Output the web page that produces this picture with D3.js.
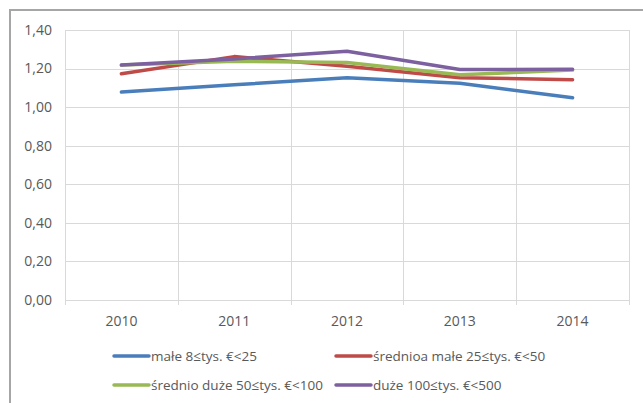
<!doctype html>
<html lang="pl">
  <head>
    <meta charset="utf-8">
    <title>Wskaźnik wg klas wielkości</title>
    <script src="https://d3js.org/d3.v7.min.js"></script>
    <style>
    body { margin: 0; background: #fff; }
    text { font-family: "Open Sans", "Liberation Sans", sans-serif; fill: #595959; }
    </style>
  </head>
  <body>
    <svg width="643" height="403"></svg>
    <script>
      var years = ['2010', '2011', '2012', '2013', '2014'];
      var yTicks = [0, 0.2, 0.4, 0.6, 0.8, 1.0, 1.2, 1.4];

      var male = [1.078, 1.116, 1.152, 1.124, 1.049];
      var srednioMale = [1.173, 1.262, 1.212, 1.153, 1.142];
      var srednioDuze = [1.218, 1.238, 1.232, 1.168, 1.192];
      var duze = [1.218, 1.250, 1.290, 1.195, 1.196];

      var seriesNames = ['małe 8≤tys. €<25', 'średnioa małe 25≤tys. €<50',
        'średnio duże 50≤tys. €<100', 'duże 100≤tys. €<500'];
      var seriesColors = ['#4a7ebb', '#be4b48', '#98b954', '#7d60a0'];
      var seriesValues = [male, srednioMale, srednioDuze, duze];

      var svg = d3.select('svg');

      // chart frame (only top and left edge visible)
      svg.append('path')
        .attr('d', 'M10,403 L10,10 L643,10')
        .attr('fill', 'none')
        .attr('stroke', '#a6a6a6')
        .attr('stroke-width', 2);

      var plotLeft = 65, plotRight = 629, plotTop = 30, plotBottom = 300;

      var x = d3.scaleBand().domain(years).range([plotLeft, plotRight]);
      var y = d3.scaleLinear().domain([0, 1.4]).range([plotBottom, plotTop]);

      var fmt = function(d){ return d3.format('.2f')(d).replace('.', ','); };

      // horizontal gridlines
      svg.append('g')
        .selectAll('line')
        .data(yTicks)
        .enter().append('line')
          .attr('x1', plotLeft).attr('x2', plotRight)
          .attr('y1', function(d){ return Math.round(y(d)) + 0.5; })
          .attr('y2', function(d){ return Math.round(y(d)) + 0.5; })
          .attr('stroke', '#d9d9d9');

      // vertical gridlines at category boundaries, with small ticks below
      var bounds = years.map(function(d){ return x(d); }).concat([plotRight]);
      svg.append('g')
        .selectAll('line')
        .data(bounds)
        .enter().append('line')
          .attr('x1', function(d){ return Math.round(d) + 0.5; })
          .attr('x2', function(d){ return Math.round(d) + 0.5; })
          .attr('y1', plotTop).attr('y2', plotBottom + 5)
          .attr('stroke', '#d9d9d9');

      // y labels
      svg.append('g')
        .selectAll('text')
        .data(yTicks)
        .enter().append('text')
          .attr('x', 52)
          .attr('y', function(d){ return y(d); })
          .attr('dy', '0.35em')
          .attr('text-anchor', 'end')
          .style('font-size', '14px')
          .text(fmt);

      // x labels
      svg.append('g')
        .selectAll('text')
        .data(years)
        .enter().append('text')
          .attr('x', function(d){ return x(d) + x.bandwidth() / 2; })
          .attr('y', 321)
          .attr('dy', '0.35em')
          .attr('text-anchor', 'middle')
          .style('font-size', '14px')
          .text(function(d){ return d; });

      var line = d3.line()
        .x(function(d, i){ return x(years[i]) + x.bandwidth() / 2; })
        .y(function(d){ return y(d); });

      svg.append('g')
        .selectAll('path')
        .data(seriesValues)
        .enter().append('path')
          .attr('d', line)
          .attr('fill', 'none')
          .attr('stroke', function(d, i){ return seriesColors[i]; })
          .attr('stroke-width', 3.5)
          .attr('stroke-linecap', 'round')
          .attr('stroke-linejoin', 'round');

      // legend, 2 x 2
      var legendPos = [[113, 356], [335, 356], [113, 385], [335, 385]];
      var legend = svg.append('g')
        .selectAll('g')
        .data(seriesNames)
        .enter().append('g')
          .attr('transform', function(d, i){ return 'translate(' + legendPos[i][0] + ',' + legendPos[i][1] + ')'; });

      legend.append('line')
        .attr('x1', 1).attr('x2', 36)
        .attr('stroke', function(d, i){ return seriesColors[i]; })
        .attr('stroke-width', 3.5)
        .attr('stroke-linecap', 'round');

      legend.append('text')
        .attr('x', 38)
        .attr('dy', '0.35em')
        .style('font-size', '13.5px')
        .text(function(d){ return d; });
    </script>
  </body>
</html>
